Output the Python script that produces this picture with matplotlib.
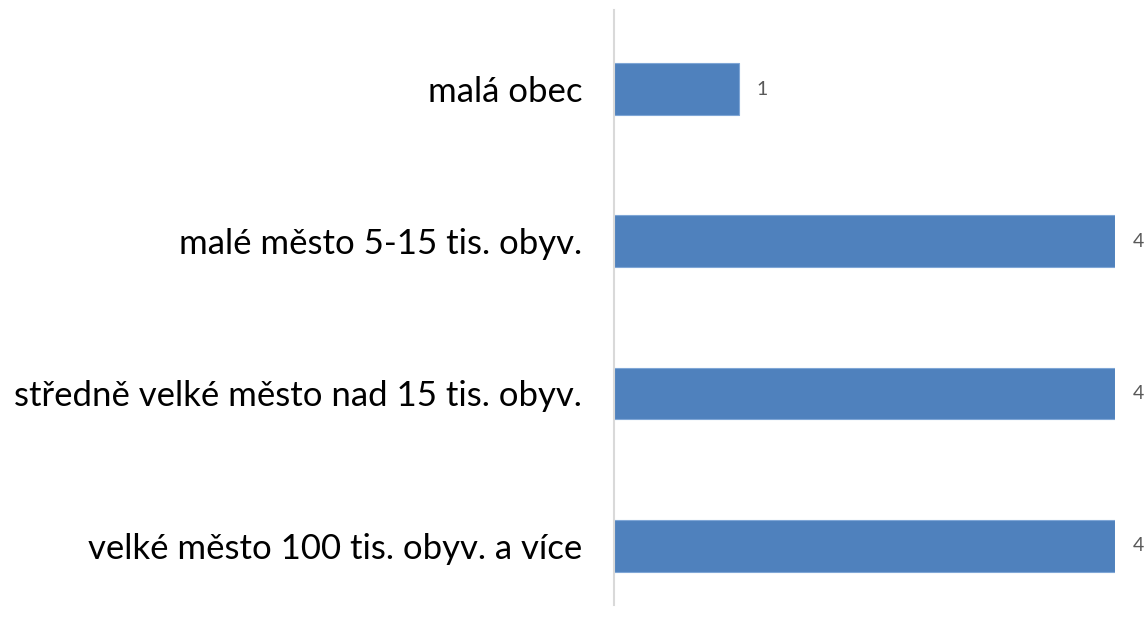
import matplotlib
matplotlib.use("Agg")
import matplotlib.pyplot as plt

categories = ["malá obec", "malé město 5-15 tis. obyv.",
              "středně velké město nad 15 tis. obyv.", "velké město 100 tis. obyv. a více"]
values = [1, 4, 4, 4]

plt.rcParams['font.family'] = ['Lato', 'DejaVu Sans']

fig = plt.figure(figsize=(11.45, 6.17), dpi=100)
ax = fig.add_axes([614 / 1145, 12 / 617, (1115 - 614) / 1145, 595 / 617])

pos = list(range(len(categories)))
ax.barh(pos, values, height=0.34, color='#4F81BD', edgecolor='#7FA6D6', linewidth=0.8)
for p, v in zip(pos, values):
    ax.text(v + 0.14, p, str(v), va='center', ha='left', fontsize=14, color='#595959')

ax.set_yticks(pos)
ax.set_yticklabels(categories, fontsize=25, color='black')
ax.tick_params(axis='y', length=0, pad=23)
ax.set_xticks([])
ax.set_xlim(0, 4)
ax.set_ylim(3.39, -0.52)
for s in ['top', 'right', 'bottom']:
    ax.spines[s].set_visible(False)
ax.spines['left'].set_color('#D9D9D9')
ax.spines['left'].set_linewidth(1.5)

fig.savefig("out.png", dpi=100)
